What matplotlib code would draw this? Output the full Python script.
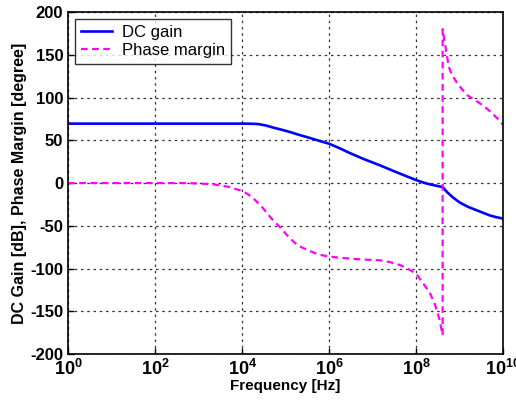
import matplotlib
matplotlib.use("Agg")
import matplotlib.pyplot as plt
import numpy as np

# DC gain curve (log10 frequency, dB)
gain_logf = [0, 2, 3, 3.5, 4.0, 4.2, 4.37, 4.55, 4.72, 4.9, 5.1, 5.3, 5.56, 5.8, 6.0, 6.25, 6.48, 6.8, 7.17, 7.4, 7.63, 7.8, 8.0, 8.2, 8.4, 8.61,
             8.71, 8.85, 9.01, 9.2, 9.4, 9.55, 9.7, 9.85, 10.0]
gain_db = [69.5, 69.5, 69.5, 69.5, 69.5, 69.4, 69, 67.3, 64.8, 62.5, 59.7, 56.5, 52.7, 49, 46, 40.5, 35, 28, 20.7, 15.8, 11, 7.5, 3.5, 0, -2.5, -4.7,
           -10.5, -17, -23, -28, -32, -35, -38, -40, -41.6]

# Phase margin curve (log10 frequency, degree)
phase_logf = [0, 2, 2.59, 3.0, 3.34, 3.72, 4.0, 4.13, 4.26, 4.38, 4.49, 4.6, 4.72, 4.83, 4.93, 5.03, 5.15, 5.26, 5.38, 5.49, 5.65, 5.79, 6.0, 6.17,
              6.5, 6.8, 7.17, 7.4, 7.63, 7.8, 8.0, 8.17, 8.32, 8.44, 8.54, 8.61,
              8.61, 8.64, 8.69, 8.75, 8.83, 8.93, 9.05, 9.17, 9.32, 9.47, 9.63, 9.78, 9.9, 10.0]
phase_deg = [0, 0, 0, -0.5, -1.5, -4.7, -9.4, -13, -18, -24, -30, -37, -44, -49.5, -55, -61, -67, -72, -75.5, -78, -81.5, -84, -86, -87,
             -88.5, -89.5, -90.4, -92.5, -96, -100, -106, -118, -129, -143, -160, -178,
             180, 170, 155, 136, 126, 118, 110, 103, 98, 93, 87, 80, 74, 68]

xticks = [1e0, 1e2, 1e4, 1e6, 1e8, 1e10]
xticklabels = ["$\\mathbf{10^{0}}$", "$\\mathbf{10^{2}}$", "$\\mathbf{10^{4}}$", "$\\mathbf{10^{6}}$", "$\\mathbf{10^{8}}$", "$\\mathbf{10^{10}}$"]
yticks = [-200, -150, -100, -50, 0, 50, 100, 150, 200]

plt.rcParams['font.family'] = ['Liberation Sans', 'DejaVu Sans']
plt.rcParams['font.weight'] = 'bold'
plt.rcParams['mathtext.fontset'] = 'custom'
plt.rcParams['mathtext.bf'] = 'Liberation Sans:bold'
plt.rcParams['mathtext.rm'] = 'Liberation Sans:bold'

fig = plt.figure(figsize=(5.16, 4.03), dpi=100)
ax = fig.add_axes([0.132, 0.1216, 0.843, 0.8484])

ax.plot(10.0 ** np.array(gain_logf), gain_db, color='#0000ff', lw=1.9, label='DC gain')
ax.plot(10.0 ** np.array(phase_logf), phase_deg, color='#ff00ff', lw=1.6, ls=(0, (3, 2)), label='Phase margin')

ax.set_xscale('log')
ax.set_xlim(1e0, 1e10)
ax.set_ylim(-200, 200)
ax.set_xticks(xticks)
ax.set_xticklabels(xticklabels, fontsize=13)
ax.minorticks_off()
ax.set_yticks(yticks)
ax.set_yticklabels([str(v) for v in yticks], fontsize=12, fontweight='bold')
ax.tick_params(direction='in', length=4, width=1)
ax.grid(True, color='#333333', ls=(0, (2, 3)), lw=0.9)
for s in ax.spines.values():
    s.set_linewidth(1.2)

ax.set_xlabel('Frequency [Hz]', fontsize=11, fontweight='bold', labelpad=0)
ax.set_ylabel('DC Gain [dB], Phase Margin [degree]', fontsize=11.5, fontweight='bold', labelpad=2)

leg = ax.legend(loc='upper left', fontsize=12, frameon=True, fancybox=False, edgecolor='black',
                handlelength=1.9, handletextpad=0.6, borderpad=0.35, labelspacing=0.2, borderaxespad=0.4)
leg.get_frame().set_linewidth(1.0)
for t in leg.get_texts():
    t.set_fontweight('normal')

fig.savefig('out.png', dpi=100)
